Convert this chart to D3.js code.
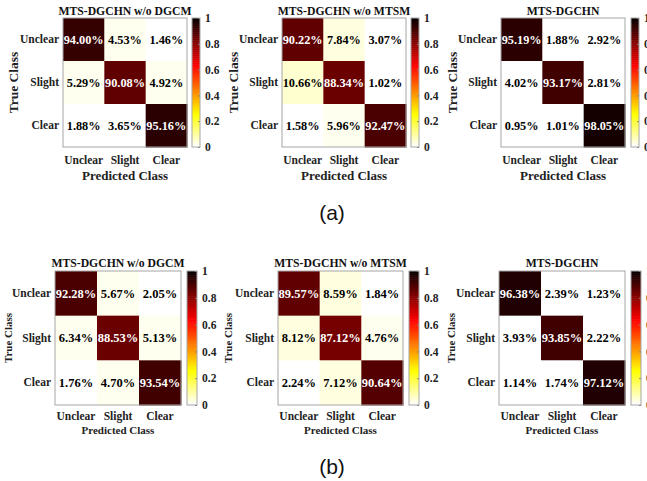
<!DOCTYPE html>
<html>
<head>
<meta charset="utf-8">
<script src="https://cdn.jsdelivr.net/npm/d3@7"></script>
<style>
  html, body { margin: 0; padding: 0; background: #fff; }
  svg { display: block; }
</style>
</head>
<body>
<svg id="chart" width="647" height="481"></svg>
<script>
// Class labels (rows = true class, columns = predicted class)
const classes = ["Unclear", "Slight", "Clear"];
const modelTitles = ["MTS-DGCHN w/o DGCM", "MTS-DGCHN w/o MTSM", "MTS-DGCHN"];
const colorbarTicks = [0, 0.2, 0.4, 0.6, 0.8, 1];
const groupLabels = ["(a)", "(b)"];

// Confusion matrices, percentages, group (a)
const aWithoutDGCM = [[94.00, 4.53, 1.46], [5.29, 90.08, 4.92], [1.88, 3.65, 95.16]];
const aWithoutMTSM = [[90.22, 7.84, 3.07], [10.66, 88.34, 1.02], [1.58, 5.96, 92.47]];
const aFull        = [[95.19, 1.88, 2.92], [4.02, 93.17, 2.81], [0.95, 1.01, 98.05]];

// Confusion matrices, percentages, group (b)
const bWithoutDGCM = [[92.28, 5.67, 2.05], [6.34, 88.53, 5.13], [1.76, 4.70, 93.54]];
const bWithoutMTSM = [[89.57, 8.59, 1.84], [8.12, 87.12, 4.76], [2.24, 7.12, 90.64]];
const bFull        = [[96.38, 2.39, 1.23], [3.93, 93.85, 2.22], [1.14, 1.74, 97.12]];

const groups = [
  [aWithoutDGCM, aWithoutMTSM, aFull],
  [bWithoutDGCM, bWithoutMTSM, bFull]
];

// Reversed "hot" colormap with 64 discrete levels (white -> yellow -> red -> black)
const hot64 = (() => {
  const n = 64, n1 = 24, n2 = 24, n3 = 16;
  const out = [];
  for (let i = 0; i < n; i++) {
    const r = i < n1 ? (i + 1) / n1 : 1;
    const g = i < n1 ? 0 : (i < n1 + n2 ? (i - n1 + 1) / n2 : 1);
    const b = i < n1 + n2 ? 0 : (i - n1 - n2 + 1) / n3;
    out.push(d3.rgb(r * 255, g * 255, b * 255).formatHex());
  }
  return out.reverse();
})();
const color = d3.scaleQuantize().domain([0, 1]).range(hot64);
// cells use a slightly compressed mapping of the fraction onto the colormap
const cellLevel = d3.scalePow().exponent(1.3).domain([0, 1]).range([0, 1]);

// Panel geometry per row
const rows = [
  { y0: 18, y1: 147, titleY: 15, xtickY: 164, xlabY: 180, xlabSize: 13, ylabSize: 13.5, cellSize: 12.3,
    panels: [ { x0: 63, x1: 187, cb: 192, cbw: 8, yl: 50 },
              { x0: 282, x1: 406, cb: 411, cbw: 8, yl: 49 },
              { x0: 501, x1: 625, cb: 631, cbw: 8, yl: 49 } ] },
  { y0: 271, y1: 405, titleY: 267, xtickY: 420, xlabY: 434, xlabSize: 11, ylabSize: 11, cellSize: 12.5,
    panels: [ { x0: 55, x1: 181, cb: 187, cbw: 10, yl: 47 },
              { x0: 278, x1: 403, cb: 409, cbw: 10, yl: 50 },
              { x0: 499, x1: 625, cb: 631, cbw: 10, yl: 48 } ] }
];
const groupLabelY = [220, 474];

const svg = d3.select("#chart");
const serif = "'Liberation Serif', 'Times New Roman', serif";

rows.forEach((row, ri) => {
  row.panels.forEach((p, pi) => {
    const mat = groups[ri][pi];
    const g = svg.append("g");

    const x = d3.scaleBand().domain(classes).range([p.x0, p.x1]);
    const y = d3.scaleBand().domain(classes).range([row.y0, row.y1]);

    const cells = [];
    mat.forEach((r, i) => r.forEach((v, j) => cells.push({ t: classes[i], p: classes[j], v })));

    g.selectAll("rect.cell").data(cells).enter().append("rect")
      .attr("class", "cell")
      .attr("x", d => x(d.p)).attr("y", d => y(d.t))
      .attr("width", x.bandwidth() + 0.5).attr("height", y.bandwidth() + 0.5)
      .attr("fill", d => color(cellLevel(d.v / 100)));

    g.selectAll("text.val").data(cells).enter().append("text")
      .attr("class", "val")
      .attr("x", d => x(d.p) + x.bandwidth() / 2)
      .attr("y", d => y(d.t) + y.bandwidth() / 2)
      .attr("dy", "0.35em")
      .attr("text-anchor", "middle")
      .attr("font-family", serif).attr("font-weight", "bold")
      .attr("font-size", row.cellSize)
      .attr("fill", d => d.v / 100 > 0.6 ? "#fff" : "#000")
      .text(d => d.v.toFixed(2) + "%");

    // frame
    g.append("rect")
      .attr("x", p.x0).attr("y", row.y0)
      .attr("width", p.x1 - p.x0).attr("height", row.y1 - row.y0)
      .attr("fill", "none").attr("stroke", "#a6a6a6").attr("stroke-width", 1);

    // axes
    const yAxis = g.append("g").attr("transform", `translate(${p.x0},0)`)
      .call(d3.axisLeft(y).tickSize(0).tickPadding(4));
    const xAxis = g.append("g").attr("transform", `translate(0,${row.y1})`)
      .call(d3.axisBottom(x).tickSize(0).tickPadding(0));
    [yAxis, xAxis].forEach(a => {
      a.select(".domain").remove();
      a.selectAll("text").attr("font-family", serif).attr("font-weight", "bold")
        .attr("font-size", 11.5).attr("fill", "#222");
    });
    xAxis.selectAll("text").attr("dy", null).attr("y", row.xtickY - row.y1);

    // title
    g.append("text")
      .attr("x", (p.x0 + p.x1) / 2).attr("y", row.titleY)
      .attr("text-anchor", "middle")
      .attr("font-family", serif).attr("font-weight", "bold").attr("font-size", 11.7)
      .attr("fill", "#111")
      .text(modelTitles[pi]);

    // axis titles
    g.append("text")
      .attr("x", (p.x0 + p.x1) / 2).attr("y", row.xlabY)
      .attr("text-anchor", "middle")
      .attr("font-family", serif).attr("font-weight", "bold").attr("font-size", row.xlabSize)
      .attr("fill", "#222")
      .text("Predicted Class");
    g.append("text")
      .attr("transform", `translate(${p.x0 - p.yl},${(row.y0 + row.y1) / 2}) rotate(-90)`)
      .attr("text-anchor", "middle").attr("dy", "0.35em")
      .attr("font-family", serif).attr("font-weight", "bold").attr("font-size", row.ylabSize)
      .attr("fill", "#222")
      .text("True Class");

    // colorbar
    const cy = d3.scaleLinear().domain([0, 1]).range([row.y1, row.y0]);
    const steps = d3.range(hot64.length).map(k => k / hot64.length);
    const step = 1 / hot64.length;
    g.selectAll("rect.cb").data(steps).enter().append("rect")
      .attr("class", "cb")
      .attr("x", p.cb).attr("width", p.cbw)
      .attr("y", d => cy(d + step))
      .attr("height", d => cy(d) - cy(d + step) + 0.5)
      .attr("fill", d => color(d + step / 2));
    g.append("rect")
      .attr("x", p.cb).attr("y", row.y0)
      .attr("width", p.cbw).attr("height", row.y1 - row.y0)
      .attr("fill", "none").attr("stroke", "#a6a6a6").attr("stroke-width", 1);
    const cAxis = g.append("g").attr("transform", `translate(${p.cb + p.cbw},0)`)
      .call(d3.axisRight(cy).tickValues(colorbarTicks).tickFormat(d3.format("~g"))
        .tickSize(-2).tickPadding(5));
    cAxis.select(".domain").remove();
    cAxis.selectAll("line").attr("stroke", "#888");
    cAxis.selectAll("text").attr("font-family", serif).attr("font-weight", "bold")
      .attr("font-size", 11.5).attr("fill", "#222");
  });

  svg.append("text")
    .attr("x", 332).attr("y", groupLabelY[ri])
    .attr("text-anchor", "middle")
    .attr("font-family", "'Liberation Sans', Arial, sans-serif").attr("font-size", 21)
    .attr("fill", "#111")
    .text(groupLabels[ri]);
});
</script>
</body>
</html>
